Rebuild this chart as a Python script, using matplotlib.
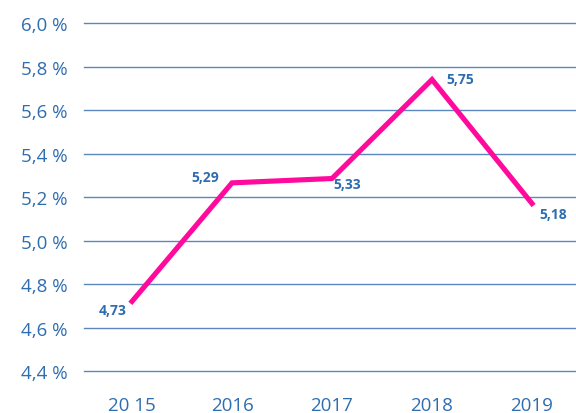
import matplotlib
matplotlib.use("Agg")
import matplotlib.pyplot as plt
from matplotlib.ticker import FixedLocator

years = ["20 15", "2016", "2017", "2018", "2019"]
values = [4.72, 5.265, 5.285, 5.74, 5.17]
labels = ["4,73", "5,29", "5,33", "5,75", "5,18"]
yticks = [4.4, 4.6, 4.8, 5.0, 5.2, 5.4, 5.6, 5.8, 6.0]
ytick_labels = ["4,4 %", "4,6 %", "4,8 %", "5,0 %", "5,2 %", "5,4 %", "5,6 %", "5,8 %", "6,0 %"]

txt_color = "#2E6DB0"
grid_color = "#5B87BF"
line_color = "#FF0A9C"

plt.rcParams['font.family'] = ['Open Sans', 'DejaVu Sans']

fig = plt.figure(figsize=(5.76, 4.14), dpi=100)
ax = fig.add_axes([84/576, 1 - 372/414, (576 - 84)/576, (372 - 24)/414])

x = list(range(len(years)))
ax.plot(x, values, color=line_color, linewidth=3.7, solid_joinstyle='miter', zorder=3)

offsets = [(-19, -9), (-27, 6), (15, -5), (28, 1), (21, -10)]
for xi, v, lab, (dx, dy) in zip(x, values, labels, offsets):
    ax.annotate(lab, (xi, v), xytext=(dx * 0.72, dy * 0.72), textcoords='offset points',
                ha='center', va='center', fontsize=10, fontweight='bold', color=txt_color)

ax.set_ylim(4.4, 6.0)
ax.set_xlim(-0.48, 4.44)
ax.yaxis.set_major_locator(FixedLocator(yticks))
ax.set_yticklabels(ytick_labels)
ax.set_xticks(x)
ax.set_xticklabels(years)
ax.grid(axis='y', color=grid_color, linewidth=1.0)
for gl in ax.get_ygridlines():
    gl.set_clip_on(False)
ax.set_axisbelow(True)
for s in ax.spines.values():
    s.set_visible(False)
ax.tick_params(axis='both', length=0, colors=txt_color, labelsize=13.5)
ax.tick_params(axis='y', pad=12)
ax.tick_params(axis='x', pad=18)

fig.savefig("out.png", dpi=100)
